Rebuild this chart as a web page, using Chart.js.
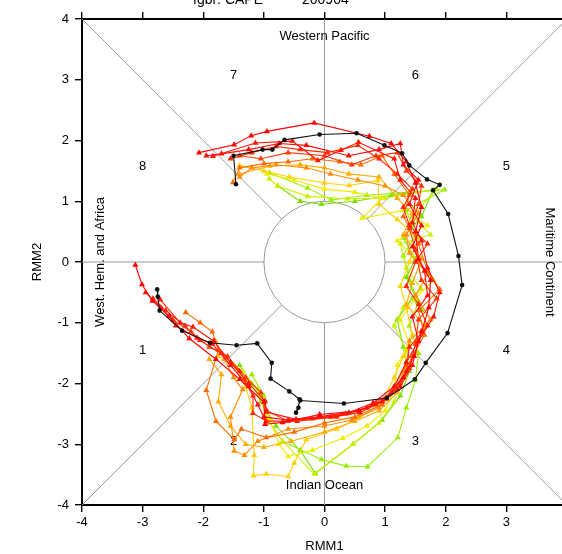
<!DOCTYPE html>
<html>
<head>
<meta charset="utf-8">
<script src="https://cdn.jsdelivr.net/npm/chart.js@4.4.1/dist/chart.umd.min.js"></script>
<style>
  html, body { margin:0; padding:0; overflow:hidden; background:#fff; }
  #wrap { width:562px; height:554px; overflow:hidden; }
</style>
</head>
<body>
<div id="wrap"><canvas id="mjo" width="620" height="554"></canvas></div>
<script>
// RMM1 / RMM2 pairs
const obs = [[-2.76,-0.45],[-2.75,-0.57],[-2.72,-0.80],[-2.35,-1.13],[-1.89,-1.33],[-1.45,-1.37],[-1.11,-1.34],
  [-0.87,-1.66],[-0.89,-1.92],[-0.58,-2.13],[-0.41,-2.26],[-0.43,-2.40],[-0.47,-2.48],[-0.40,-2.28],[0.32,-2.33],
  [1.03,-2.24],[1.49,-1.93],[1.67,-1.66],[2.03,-1.17],[2.27,-0.38],[2.21,0.10],[2.04,0.79],[1.79,1.18],[1.90,1.27],
  [1.69,1.36],[1.40,1.59],[1.28,1.79],[0.99,1.92],[0.53,2.12],[-0.08,2.10],[-0.66,2.01],[-0.86,1.85],[-1.02,1.85],
  [-1.50,1.75],[-1.46,1.28]];

const red1 = [[-3.12,-0.05],[-3.01,-0.37],[-2.84,-0.64],[-2.56,-0.89],[-2.23,-1.26],[-1.79,-1.60],[-1.40,-1.93],
  [-1.00,-2.31],[-0.98,-2.67],[-0.69,-2.64],[-0.08,-2.51],[0.57,-2.45],[1.02,-2.25],[1.30,-1.90],[1.48,-1.55],
  [1.60,-1.15],[1.72,-0.75],[1.75,-0.30],[1.55,0.05],[1.50,0.50],[1.60,0.90],[1.50,1.30],[1.35,1.65],[1.10,1.95],
  [0.74,2.07],[-0.17,2.29],[-0.95,2.15],[-1.21,2.08],[-1.49,1.93],[-2.07,1.80]];
const red2 = [[-2.71,-0.62],[-2.38,-1.00],[-2.17,-1.07],[-1.83,-1.30],[-1.55,-1.65],[-1.25,-2.00],[-0.98,-2.29],
  [-0.96,-2.47],[-0.47,-2.59],[0.10,-2.55],[0.58,-2.48],[0.95,-2.30],[1.25,-2.05],[1.45,-1.70],[1.55,-1.30],
  [1.80,-0.90],[1.90,-0.50],[1.70,-0.10],[1.60,0.35],[1.45,0.65],[1.50,1.05],[1.25,1.35],[1.15,1.70],[0.56,1.97],
  [0.27,1.84],[-0.11,1.67],[-0.53,1.99],[-1.14,1.96],[-1.84,1.74]];
const red3 = [[-2.83,-0.60],[-2.62,-0.80],[-2.30,-1.05],[-2.06,-1.29],[-1.70,-1.50],[-1.40,-1.80],[-1.18,-2.20],
  [-1.18,-2.49],[-0.96,-2.62],[-0.45,-2.62],[0.20,-2.55],[0.70,-2.40],[1.10,-2.15],[1.35,-1.80],[1.40,-1.40],
  [1.70,-1.05],[1.55,-0.70],[1.35,-0.40],[1.50,0.00],[1.70,0.30],[1.40,0.60],[1.30,0.90],[1.45,1.20],[1.20,1.45],
  [0.90,1.70],[0.55,1.92],[0.05,1.80],[-0.40,1.85],[-0.80,1.90],[-1.20,1.80],[-1.55,1.70]];
const red4 = [[-2.95,-0.50],[-2.70,-0.75],[-2.45,-1.05],[-2.10,-1.25],[-1.85,-1.35],[-1.55,-1.70],[-1.25,-2.05],
  [-1.10,-2.35],[-1.00,-2.55],[-0.60,-2.60],[-0.10,-2.55],[0.40,-2.48],[0.80,-2.32],[1.15,-2.05],[1.35,-1.65],
  [1.55,-1.30],[1.45,-0.90],[1.70,-0.55],[1.65,-0.15],[1.45,0.25],[1.60,0.60],[1.40,0.95],[1.55,1.35],[1.30,1.60],
  [1.25,1.95],[0.90,1.85],[0.40,1.75],[-0.30,1.92],[-0.75,1.95],[-1.25,1.85],[-1.70,1.78],[-1.95,1.75]];
const red5 = [[-2.50,-0.95],[-2.20,-1.15],[-1.90,-1.40],[-1.60,-1.55],[-1.30,-1.90],[-1.05,-2.15],[-0.95,-2.45],
  [-0.60,-2.62],[-0.20,-2.58],[0.35,-2.50],[0.85,-2.35],[1.20,-2.10],[1.40,-1.75],[1.50,-1.35],[1.55,-0.95],
  [1.85,-0.60],[1.60,-0.30],[1.50,0.20],[1.40,0.55],[1.55,0.95],[1.60,1.25],[1.35,1.50],[1.20,1.80],[0.85,1.75],
  [0.45,1.60],[0.00,1.75],[-0.60,1.80],[-1.05,1.70],[-1.40,1.75]];
const orange1 = [[-2.29,-0.83],[-2.05,-1.00],[-1.85,-1.15],[-1.75,-1.45],[-1.95,-2.11],[-1.79,-2.62],[-1.49,-2.92],
  [-1.37,-2.75],[-0.96,-2.89],[-0.50,-2.80],[0.00,-2.65],[0.50,-2.55],[0.95,-2.35],[1.25,-2.00],[1.45,-1.55],
  [1.65,-1.20],[1.55,-0.80],[1.90,-0.45],[1.70,-0.15],[1.55,0.30],[1.30,0.75],[1.40,1.10],[1.15,1.45],[0.95,1.75],
  [0.60,1.60],[0.25,1.65],[-0.20,1.70],[-0.60,1.65],[-1.00,1.62],[-1.40,1.55],[-1.51,1.31]];
const orange2 = [[-1.80,-1.30],[-1.65,-1.60],[-1.50,-1.90],[-1.35,-2.10],[-1.55,-2.55],[-1.49,-3.11],[-1.32,-3.18],
  [-1.10,-2.95],[-0.60,-2.75],[0.00,-2.70],[0.45,-2.60],[0.90,-2.40],[1.15,-2.05],[1.35,-1.70],[1.40,-1.30],
  [1.75,-0.95],[1.50,-0.55],[1.70,-0.20],[1.40,0.15],[1.35,0.45],[1.55,0.80],[1.30,1.10],[1.00,1.25],[0.55,1.35],
  [0.10,1.45],[-0.30,1.55],[-0.80,1.60],[-1.20,1.55],[-1.40,1.40]];
const orange3 = [[-1.90,-1.60],[-1.70,-1.85],[-1.75,-2.30],[-1.55,-2.70],[-1.30,-3.00],[-1.00,-3.05],[-0.55,-2.95],
  [0.00,-2.80],[0.50,-2.62],[0.90,-2.45],[1.20,-2.15],[1.30,-1.80],[1.50,-1.50],[1.65,-1.05],[1.35,-0.70],
  [1.45,-0.35],[1.60,0.05],[1.30,0.45],[1.45,0.80],[1.20,1.05],[0.90,1.40],[0.40,1.45],[0.00,1.55],[-0.40,1.60],
  [-0.90,1.58],[-1.40,1.45]];
const yellow1 = [[-1.75,-1.55],[-1.45,-1.75],[-1.30,-2.05],[-1.20,-2.40],[-1.16,-3.18],[-1.17,-3.52],[-0.96,-3.49],
  [-0.60,-3.53],[-0.50,-3.31],[-0.30,-2.92],[0.20,-2.75],[0.58,-2.56],[0.95,-2.30],[1.15,-1.90],[1.30,-1.55],
  [1.45,-1.20],[1.35,-0.75],[1.25,-0.40],[1.40,0.00],[1.55,0.40],[1.20,0.70],[0.90,0.95],[0.88,1.34],[0.41,1.26],
  [0.00,1.30],[-0.58,1.40],[-1.00,1.50],[-1.40,1.59]];
const yellow2 = [[-1.50,-1.70],[-1.30,-1.95],[-1.05,-2.20],[-0.90,-2.60],[-0.75,-3.00],[-0.60,-3.20],[-0.20,-3.10],
  [0.30,-2.90],[0.70,-2.70],[1.00,-2.45],[1.15,-2.10],[1.20,-1.70],[1.40,-1.35],[1.25,-0.95],[1.50,-0.60],
  [1.80,-0.30],[1.45,0.10],[1.20,0.35],[1.70,0.60],[1.30,0.85],[0.62,0.72],[0.95,1.05],[0.50,1.15],[0.00,1.20],
  [-0.50,1.35],[-0.95,1.45]];
const lime1 = [[-1.35,-1.80],[-1.10,-2.10],[-0.96,-2.56],[-0.69,-2.95],[-0.17,-3.49],[0.47,-3.00],[0.90,-2.65],
  [1.15,-2.30],[1.30,-1.90],[1.35,-1.45],[1.15,-1.05],[1.30,-0.75],[1.60,-0.45],[1.35,-0.10],[1.25,0.30],
  [1.75,0.45],[1.45,0.75],[1.85,1.20],[1.00,1.05],[0.38,1.04],[-0.28,1.08],[-0.77,1.25],[-0.91,1.37]];
const green1 = [[-1.20,-1.85],[-1.00,-2.20],[-0.96,-2.56],[-0.69,-2.95],[-0.05,-3.25],[0.36,-3.36],[0.71,-3.37],
  [1.21,-2.89],[1.35,-2.40],[1.50,-1.95],[1.55,-1.50],[1.40,-1.05],[1.55,-0.65],[1.40,-0.30],[1.30,0.10],
  [1.50,0.45],[1.35,0.85],[1.98,1.19],[1.40,1.15],[0.70,1.10],[0.11,1.02],[-0.28,1.22],[-0.91,1.47]];
const green2 = [[-1.40,-1.70],[-1.20,-2.00],[-1.05,-2.30],[-0.80,-2.70],[-0.40,-3.10],[-0.15,-3.48],[0.47,-3.00],
  [0.95,-2.60],[1.25,-2.20],[1.40,-1.80],[1.30,-1.40],[1.20,-0.95],[1.45,-0.60],[1.60,-0.80],[1.35,-0.25],
  [1.50,0.05],[1.30,0.40],[1.60,0.75],[1.79,1.18],[1.10,1.10],[0.50,1.00],[-0.05,0.95],[-0.40,1.00],[-0.77,1.25]];

const axisTicks = [-4, -3, -2, -1, 0, 1, 2, 3, 4];
const phaseNums = ['1', '2', '3', '4', '5', '6', '7', '8'];
const regionNames = ['Western Pacific', 'Indian Ocean', 'West. Hem. and Africa', 'Maritime Continent'];
const titleParts = ['fgbr: CAPE', '200904'];

const members = [red1, red2, red3, red4, red5, orange1, orange2, orange3, yellow1, yellow2, lime1, green1, green2];
const memberColors = ['#ff0000', '#ff1400', '#ff2600', '#ff0a0a', '#ff3a00', '#ff6a00', '#ff8c00', '#ffaa00',
  '#ffd000', '#eeee00', '#ccee00', '#99ee00', '#77e000'];

const FONT = '"Liberation Sans", Arial, Helvetica, sans-serif';
const toXY = arr => arr.map(p => ({x: p[0], y: p[1]}));

const datasets = members.map((m, i) => ({
  data: toXY(m),
  showLine: true,
  borderColor: memberColors[i],
  backgroundColor: memberColors[i],
  borderWidth: 1.1,
  pointStyle: 'triangle',
  pointRadius: 3.5,
  pointBorderWidth: 0,
  order: 2
}));
datasets.push({
  data: toXY(obs),
  showLine: true,
  borderColor: '#111',
  backgroundColor: '#111',
  borderWidth: 1.1,
  pointStyle: 'circle',
  pointRadius: 2.3,
  pointBorderWidth: 0,
  order: 1
});

// phase diagram background: grey sector lines, unit circle, labels
const guides = {
  id: 'guides',
  beforeDatasetsDraw(chart) {
    const {ctx, scales: {x, y}} = chart;
    const px = v => x.getPixelForValue(v), py = v => y.getPixelForValue(v);
    const r = Math.SQRT1_2;
    ctx.save();
    ctx.strokeStyle = '#9a9a9a';
    ctx.lineWidth = 1;
    [[-4,0,-1,0],[1,0,4,0],[0,-4,0,-1],[0,1,0,4],[-4,-4,-r,-r],[4,4,r,r],[-4,4,-r,r],[4,-4,r,-r]].forEach(s => {
      ctx.beginPath();
      ctx.moveTo(px(s[0]), py(s[1]));
      ctx.lineTo(px(s[2]), py(s[3]));
      ctx.stroke();
    });
    ctx.beginPath();
    ctx.ellipse(px(0), py(0), px(1) - px(0), py(0) - py(1), 0, 0, 2 * Math.PI);
    ctx.stroke();

    ctx.fillStyle = '#000';
    ctx.font = '13px ' + FONT;
    ctx.textAlign = 'center';
    ctx.textBaseline = 'middle';
    const numPos = [[-3,-1.45],[-1.5,-2.95],[1.5,-2.95],[3,-1.45],[3,1.57],[1.5,3.07],[-1.5,3.07],[-3,1.57]];
    phaseNums.forEach((t, i) => ctx.fillText(t, px(numPos[i][0]), py(numPos[i][1])));
    ctx.fillText(regionNames[0], px(0), py(3.72));
    ctx.fillText(regionNames[1], px(0), py(-3.68));
    ctx.save();
    ctx.translate(px(-3.7), py(0));
    ctx.rotate(-Math.PI / 2);
    ctx.fillText(regionNames[2], 0, 0);
    ctx.restore();
    ctx.save();
    ctx.translate(px(3.72), py(0));
    ctx.rotate(Math.PI / 2);
    ctx.fillText(regionNames[3], 0, 0);
    ctx.restore();
    ctx.restore();
  },
  afterDraw(chart) {
    const ctx = chart.ctx;
    ctx.save();
    ctx.fillStyle = '#000';
    ctx.font = '14px ' + FONT;
    ctx.textBaseline = 'alphabetic';
    ctx.fillText(titleParts[0], 193, 4);
    ctx.fillText(titleParts[1], 302, 4);
    ctx.restore();
  }
};

const frameGrid = { drawOnChartArea: false, drawTicks: true, tickLength: 7, color: '#000', lineWidth: 1.4 };
const frameBorder = { display: true, color: '#000', width: 2 };
const tickFont = { family: FONT, size: 13 };

new Chart(document.getElementById('mjo'), {
  type: 'scatter',
  data: { datasets },
  options: {
    responsive: false,
    animation: false,
    devicePixelRatio: 1,
    layout: { padding: { left: 30, right: 53, top: 0, bottom: 0 } },
    plugins: { legend: { display: false }, tooltip: { enabled: false } },
    scales: {
      x: {
        type: 'linear', position: 'bottom', min: -4, max: 4,
        afterBuildTicks: s => { s.ticks = axisTicks.map(v => ({value: v})); },
        ticks: { color: '#000', font: tickFont, padding: 3, autoSkip: false, maxRotation: 0 },
        grid: frameGrid, border: frameBorder,
        title: { display: true, text: 'RMM1', color: '#000', font: tickFont, padding: 0 },
        afterFit: s => { s.height = 49; }
      },
      xTop: {
        type: 'linear', position: 'top', min: -4, max: 4,
        afterBuildTicks: s => { s.ticks = axisTicks.map(v => ({value: v})); },
        ticks: { display: false },
        grid: frameGrid, border: frameBorder,
        afterFit: s => { s.height = 19; }
      },
      y: {
        type: 'linear', position: 'left', min: -4, max: 4,
        afterBuildTicks: s => { s.ticks = axisTicks.map(v => ({value: v})); },
        ticks: { color: '#000', font: tickFont, padding: 6, autoSkip: false },
        grid: frameGrid, border: frameBorder,
        title: { display: true, text: 'RMM2', color: '#000', font: tickFont, padding: 0 },
        afterFit: s => { s.height = s.height; s.width = 52; }
      }
    }
  },
  plugins: [guides]
});
</script>
</body>
</html>
